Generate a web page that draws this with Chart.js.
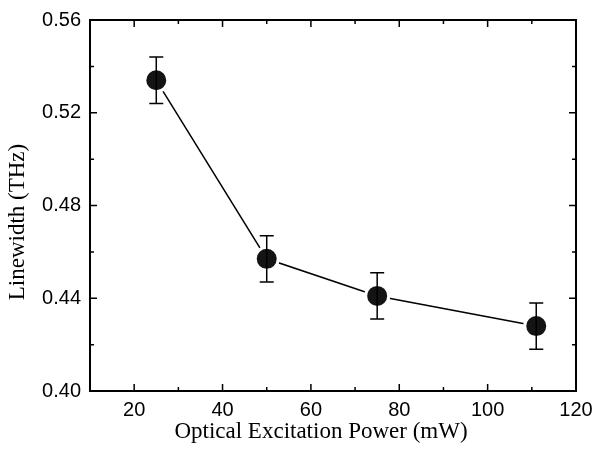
<!DOCTYPE html>
<html>
<head>
<meta charset="utf-8">
<script src="https://cdn.jsdelivr.net/npm/chart.js@4"></script>
<style>
  body { margin: 0; background: #fff; }
  #wrap { width: 596px; height: 452px; }
</style>
</head>
<body>
<div id="wrap"><canvas id="chart" width="596" height="452"></canvas></div>
<script>
// data
const powerMw = [25, 50, 75, 111];
const linewidthTHz = [0.534, 0.457, 0.441, 0.428];
const errorTHz = [0.01, 0.01, 0.01, 0.01];

const xTicks = [20, 40, 60, 80, 100, 120];
const xMinorTicks = [30, 50, 70, 90, 110];
const yTicks = [0.40, 0.44, 0.48, 0.52, 0.56];
const yMinorTicks = [0.42, 0.46, 0.50, 0.54];

const xTitle = 'Optical Excitation Power (mW)';
const yTitle = 'Linewidth (THz)';

const tickFont = { family: '"Liberation Sans", Arial, sans-serif', size: 20 };
const titleFont = '23px "Liberation Serif", "Times New Roman", serif';

// error bars, frame, inward ticks, axis titles
const framePlugin = {
    id: 'frame',
    afterDatasetsDraw(chart) {
        const ctx = chart.ctx;
        const x = chart.scales.x, y = chart.scales.y;
        ctx.save();
        ctx.strokeStyle = '#000';
        ctx.lineWidth = 1.5;
        powerMw.forEach((p, i) => {
            const px = x.getPixelForValue(p);
            const top = y.getPixelForValue(linewidthTHz[i] + errorTHz[i]);
            const bot = y.getPixelForValue(linewidthTHz[i] - errorTHz[i]);
            ctx.beginPath();
            ctx.moveTo(px, top); ctx.lineTo(px, bot);
            ctx.moveTo(px - 7, top); ctx.lineTo(px + 7, top);
            ctx.moveTo(px - 7, bot); ctx.lineTo(px + 7, bot);
            ctx.stroke();
        });
        ctx.restore();
    },
    afterDraw(chart) {
        const ctx = chart.ctx;
        const a = chart.chartArea;
        const x = chart.scales.x, y = chart.scales.y;
        ctx.save();
        ctx.strokeStyle = '#000';
        ctx.lineWidth = 2;
        ctx.strokeRect(a.left, a.top, a.right - a.left, a.bottom - a.top);

        ctx.lineWidth = 1.5;
        const xt = (vals, len) => vals.forEach(v => {
            const px = x.getPixelForValue(v);
            ctx.beginPath();
            ctx.moveTo(px, a.bottom); ctx.lineTo(px, a.bottom - len);
            ctx.moveTo(px, a.top); ctx.lineTo(px, a.top + len);
            ctx.stroke();
        });
        const yt = (vals, len) => vals.forEach(v => {
            const py = y.getPixelForValue(v);
            ctx.beginPath();
            ctx.moveTo(a.left, py); ctx.lineTo(a.left + len, py);
            ctx.moveTo(a.right, py); ctx.lineTo(a.right - len, py);
            ctx.stroke();
        });
        xt(xTicks, 7); xt(xMinorTicks, 4);
        yt(yTicks, 7); yt(yMinorTicks, 4);

        ctx.fillStyle = '#000';
        ctx.font = titleFont;
        ctx.textAlign = 'center';
        ctx.textBaseline = 'alphabetic';
        ctx.fillText(xTitle, 321, 438);

        ctx.translate(18, 222);
        ctx.rotate(-Math.PI / 2);
        ctx.textBaseline = 'middle';
        ctx.fillText(yTitle, 0, 0);
        ctx.restore();
    }
};

new Chart(document.getElementById('chart'), {
    type: 'scatter',
    data: {
        datasets: [{
            data: powerMw.map((p, i) => ({ x: p, y: linewidthTHz[i] })),
            showLine: true,
            borderColor: '#000',
            borderWidth: 1.5,
            pointRadius: 11.5,
            pointHoverRadius: 11.5,
            pointBackgroundColor: '#141414',
            pointBorderColor: '#fff',
            pointBorderWidth: 3,
        }],
    },
    options: {
        responsive: false,
        animation: false,
        events: [],
        layout: { padding: { top: 20, right: 20, left: 0, bottom: 0 } },
        plugins: { legend: { display: false }, tooltip: { enabled: false } },
        scales: {
            x: {
                type: 'linear',
                min: 10,
                max: 120,
                afterBuildTicks: s => { s.ticks = xTicks.map(v => ({ value: v })); },
                afterFit: s => { s.height = 61; s.paddingLeft = 0; s.paddingRight = 0; },
                grid: { display: false, drawTicks: false },
                border: { display: false },
                ticks: { color: '#000', font: tickFont, padding: 7, maxRotation: 0 },
            },
            y: {
                min: 0.40,
                max: 0.56,
                afterBuildTicks: s => { s.ticks = yTicks.map(v => ({ value: v })); },
                afterFit: s => { s.width = 90; s.paddingTop = 0; s.paddingBottom = 0; },
                grid: { display: false, drawTicks: false },
                border: { display: false },
                ticks: { color: '#000', font: tickFont, padding: 9, callback: v => v.toFixed(2) },
            },
        },
    },
    plugins: [framePlugin],
});
</script>
</body>
</html>
